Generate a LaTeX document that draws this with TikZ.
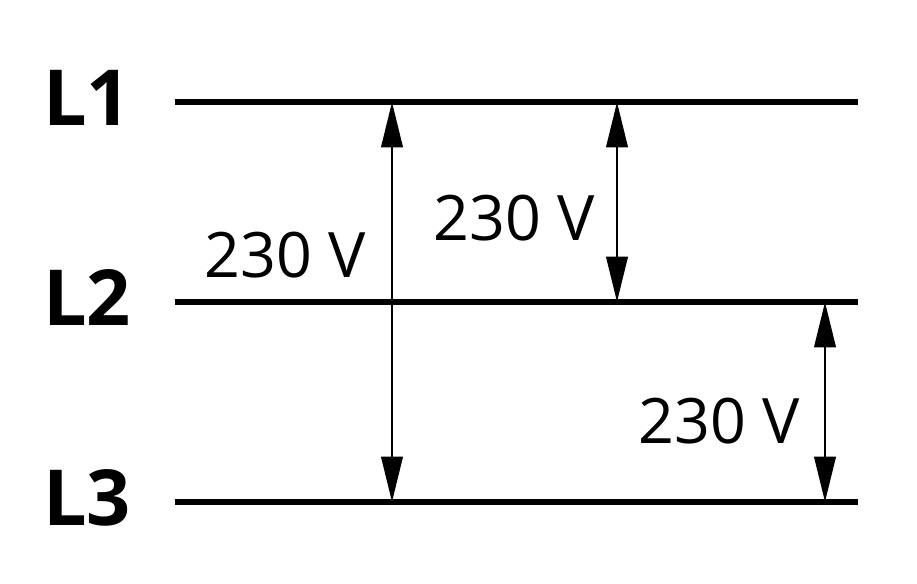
\documentclass[tikz,border=0pt]{standalone}
\usepackage{fontspec}
\setmainfont{Open Sans}
\usetikzlibrary{arrows.meta}
\begin{document}
\begin{tikzpicture}[x=0.75pt,y=-0.75pt,
  phase/.style={line width=4.5pt},
  volt/.style={line width=2.2pt,{Stealth[length=34pt,width=16pt,inset=0pt]}-{Stealth[length=34pt,width=16pt,inset=0pt]}},
  lname/.style={font=\fontsize{58}{58}\selectfont\bfseries},
  vlabel/.style={font=\fontsize{47}{47}\selectfont}]
\useasboundingbox (0,0) rectangle (917,584);
\foreach \n/\y in {1/102,2/302,3/502}{
  \coordinate (a\n) at (175,\y);
  \coordinate (b\n) at (858,\y);
  \draw[phase] (a\n) -- (b\n);
  \node[lname] (l\n) at (87,\y-4) {L\n};
}
\coordinate (p1) at (392,102); \coordinate (p3) at (392,502);
\coordinate (q1) at (617,102); \coordinate (q2) at (617,302);
\coordinate (r2) at (825,302); \coordinate (r3) at (825,502);
\draw[volt] (p1) -- (p3);
\draw[volt] (q1) -- (q2);
\draw[volt] (r2) -- (r3);
\node[vlabel] (v1) at (285,255) {230 V};
\node[vlabel] (v2) at (514,218) {230 V};
\node[vlabel] (v3) at (719,421) {230 V};
\end{tikzpicture}
\end{document}
